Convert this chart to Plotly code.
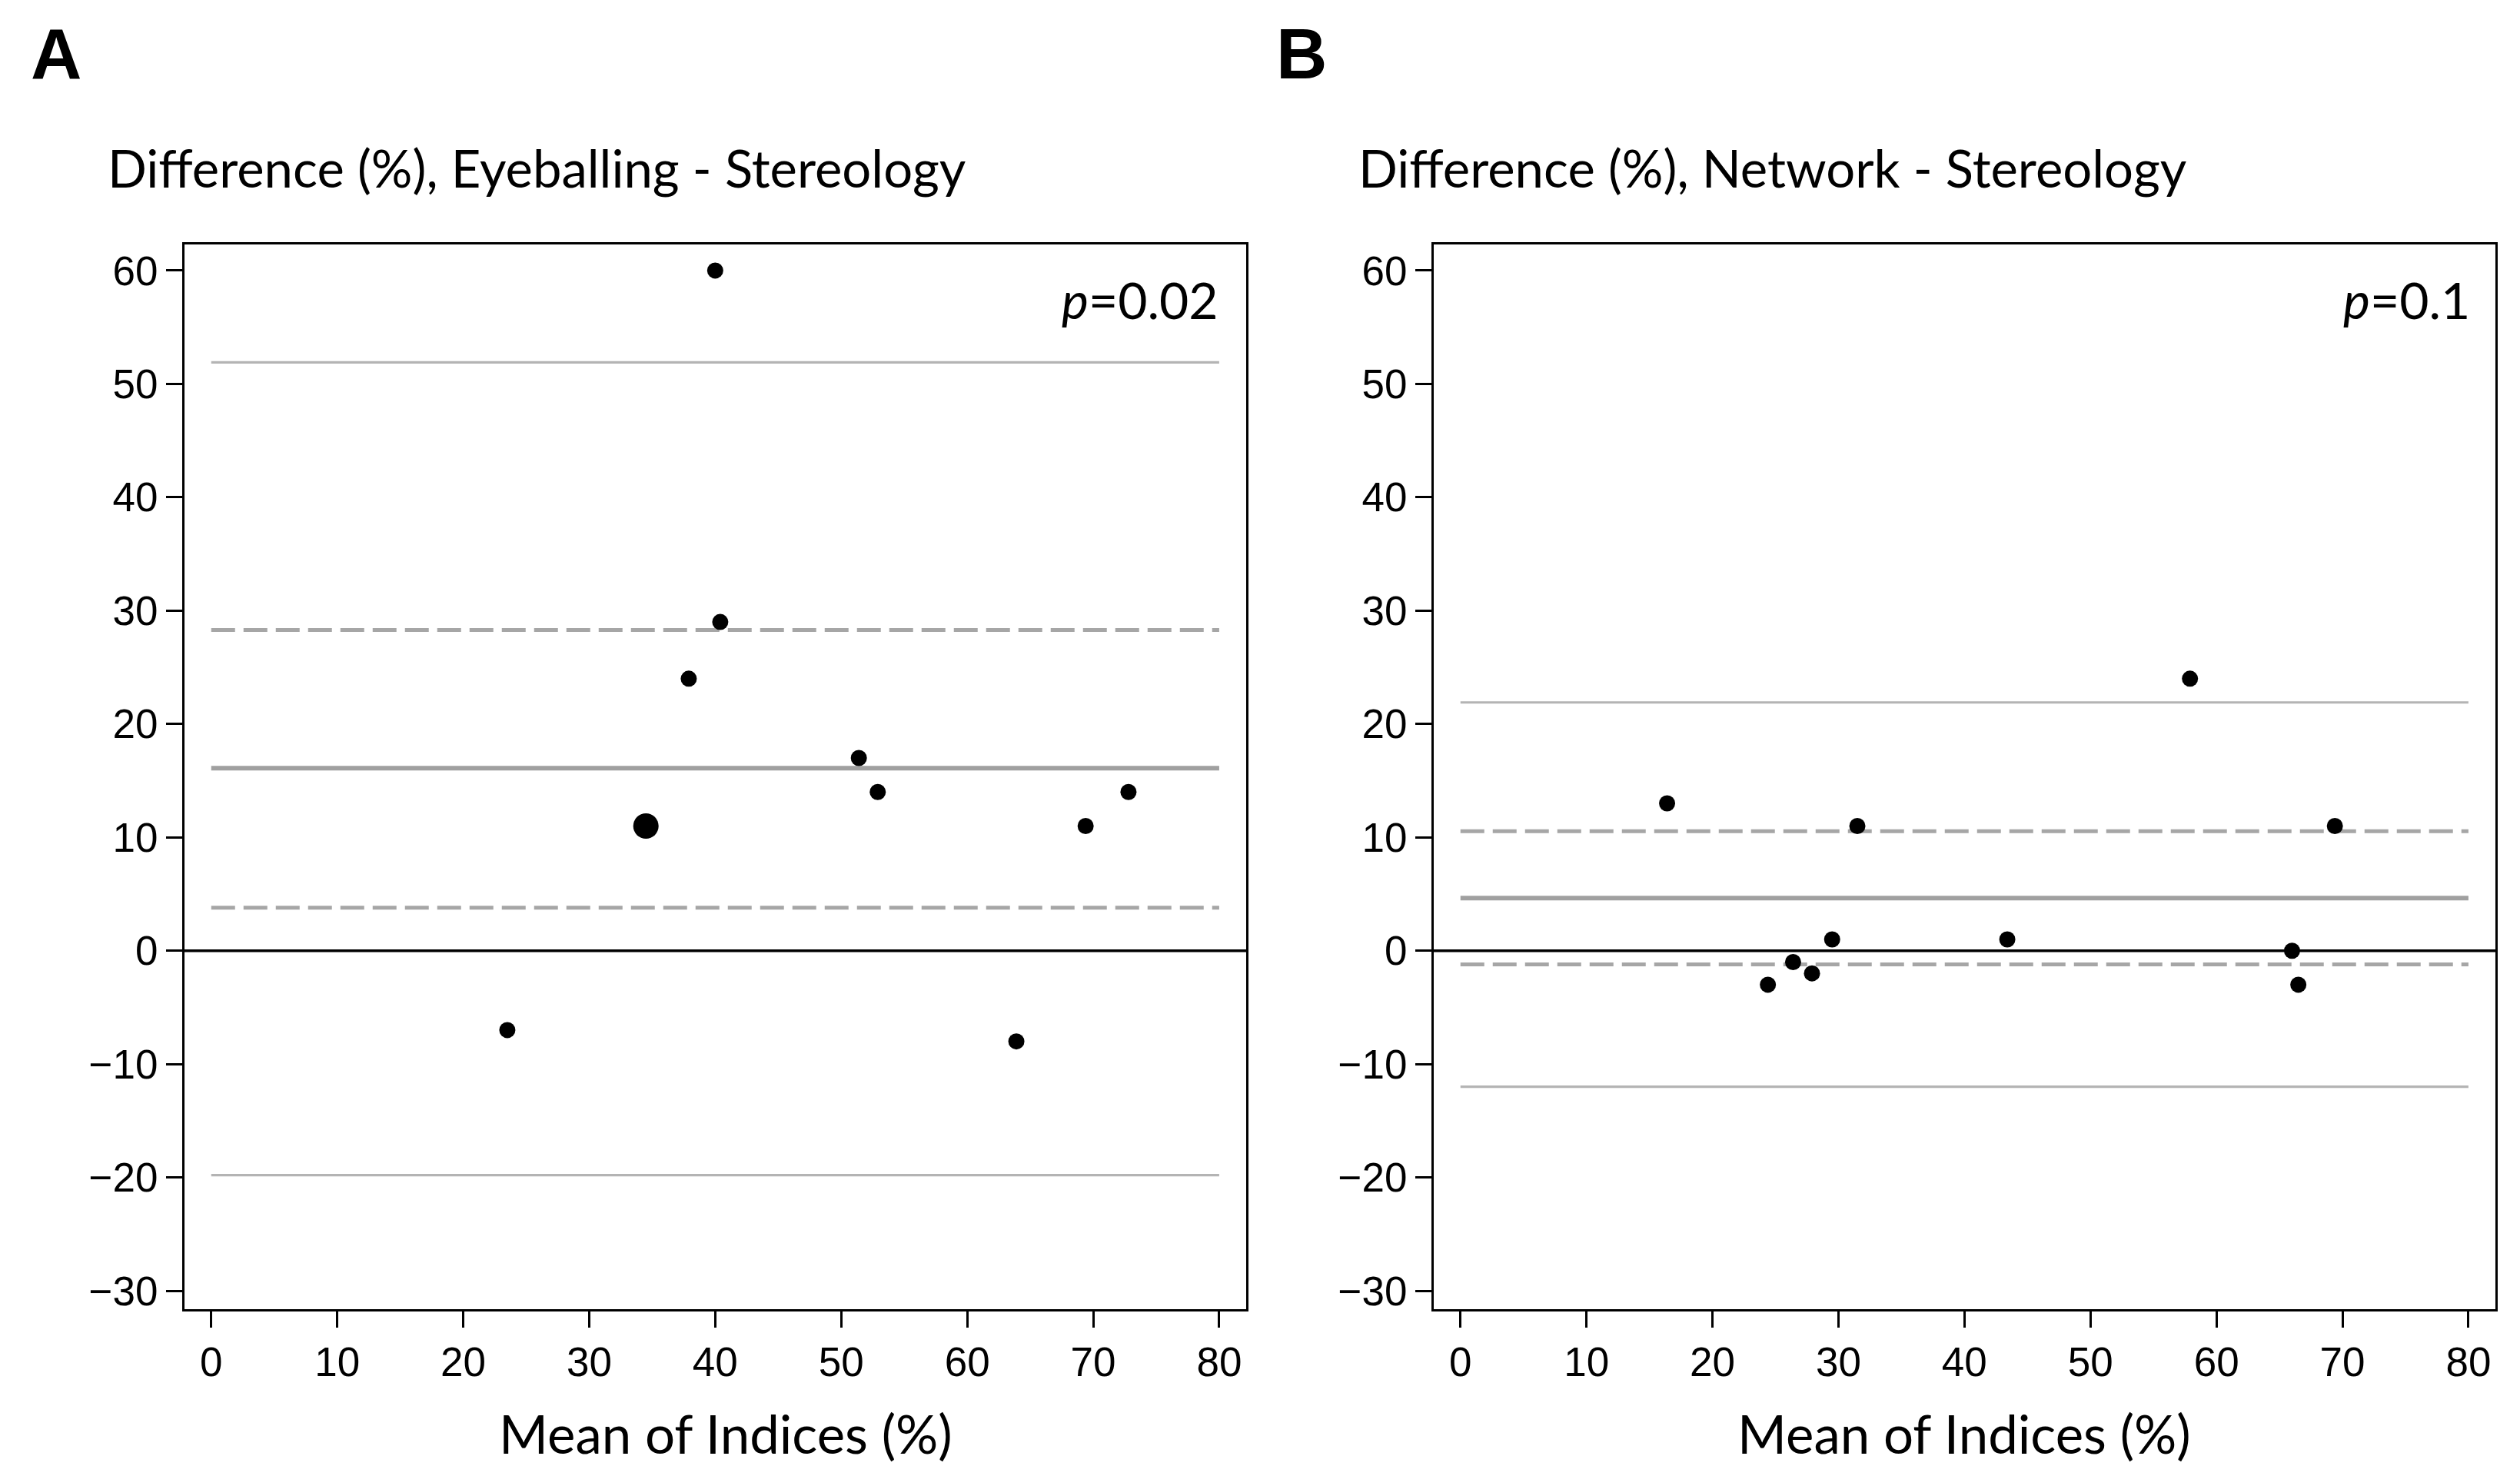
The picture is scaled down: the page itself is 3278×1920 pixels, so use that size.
import plotly.graph_objects as go

# ---------------- data ----------------
# Panel A: Eyeballing - Stereology
a_mean_idx = [40.0, 40.4, 37.9, 34.5, 51.4, 52.9, 69.4, 72.8, 23.5, 63.9]
a_diff = [60, 29, 24, 11, 17, 14, 11, 14, -7, -8]
a_count = [1, 1, 1, 2, 1, 1, 1, 1, 1, 1]
a_mean_line = 16.1
a_ci = [28.3, 3.8]
a_loa = [51.9, -19.8]
a_p = "0.02"

# Panel B: Network - Stereology
b_mean_idx = [16.4, 31.5, 57.9, 69.4, 29.5, 43.4, 26.4, 27.9, 24.4, 66.0, 66.5]
b_diff = [13, 11, 24, 11, 1, 1, -1, -2, -3, 0, -3]
b_count = [1] * len(b_diff)
b_mean_line = 4.65
b_ci = [10.55, -1.2]
b_loa = [21.9, -12.0]
b_p = "0.1"

x_ticks = [0, 10, 20, 30, 40, 50, 60, 70, 80]
y_ticks = [-30, -20, -10, 0, 10, 20, 30, 40, 50, 60]
line_x = [0, 80]

panel_letters = ["A", "B"]
y_titles = ["Difference (%), Eyeballing - Stereology", "Difference (%), Network - Stereology"]
x_title = "Mean of Indices (%)"

# ---------------- styling ----------------
W, H = 3278, 1920
TICK_FONT = "Liberation Sans, Arial, sans-serif"
TEXT_FONT = "Lato, Open Sans, sans-serif"

fig = go.Figure()

panels = [
    dict(x=a_mean_idx, y=a_diff, n=a_count, mean=a_mean_line, ci=a_ci, loa=a_loa, p=a_p, xa="x", ya="y"),
    dict(x=b_mean_idx, y=b_diff, n=b_count, mean=b_mean_line, ci=b_ci, loa=b_loa, p=b_p, xa="x2", ya="y2"),
]

for pn in panels:
    for v in pn["loa"]:
        fig.add_trace(go.Scatter(x=line_x, y=[v, v], mode="lines", xaxis=pn["xa"], yaxis=pn["ya"],
                                 line=dict(color="#b4b4b4", width=3.2), hoverinfo="skip"))
    for v in pn["ci"]:
        fig.add_trace(go.Scatter(x=line_x, y=[v, v], mode="lines", xaxis=pn["xa"], yaxis=pn["ya"],
                                 line=dict(color="#a6a6a6", width=5, dash="31px,11px"), hoverinfo="skip"))
    fig.add_trace(go.Scatter(x=line_x, y=[pn["mean"], pn["mean"]], mode="lines", xaxis=pn["xa"], yaxis=pn["ya"],
                             line=dict(color="#a0a0a0", width=6), hoverinfo="skip"))
    sizes = [21 if c == 1 else 33 for c in pn["n"]]
    fig.add_trace(go.Scatter(x=pn["x"], y=pn["y"], mode="markers", xaxis=pn["xa"], yaxis=pn["ya"],
                             marker=dict(color="#000000", size=sizes, opacity=1, line=dict(width=0))))

# zero lines across the full box
for xa, ya in [("x", "y"), ("x2", "y2")]:
    fig.add_shape(type="line", xref=f"{xa} domain", yref=ya, x0=0, x1=1, y0=0, y1=0,
                  line=dict(color="black", width=3.5), layer="above")

ax_common = dict(showgrid=False, zeroline=False, showline=True, mirror=True, linecolor="black",
                 linewidth=3, ticks="outside", ticklen=21, tickwidth=2.5, tickcolor="black",
                 tickfont=dict(family=TICK_FONT, size=53, color="black"))

ydom = [1 - 1700 / H, 1 - 311 / H]
xr = [-2.12, 82.14]
yr = [-31.6, 62.3]
fig.update_layout(
    width=W, height=H, margin=dict(l=0, r=0, t=0, b=0),
    paper_bgcolor="white", plot_bgcolor="white", showlegend=False,
    xaxis=dict(domain=[232 / W, 1613 / W], range=xr, tickvals=x_ticks, anchor="y", **ax_common),
    yaxis=dict(domain=ydom, range=yr, tickvals=y_ticks, anchor="x", **ax_common),
    xaxis2=dict(domain=[1857 / W, 3238 / W], range=xr, tickvals=x_ticks, anchor="y2", **ax_common),
    yaxis2=dict(domain=ydom, range=yr, tickvals=y_ticks, anchor="x2", **ax_common),
)

ann = []
letter_x = [30, 1650]
title_x = [130, 1757]
p_right = [1579, 3207]
xt_center = [936, 2547]
for i in range(2):
    ann.append(dict(text=f"<b>{panel_letters[i]}</b>", x=letter_x[i] / W, y=1 - 62 / H, xref="paper", yref="paper",
                    xanchor="left", yanchor="middle", showarrow=False,
                    font=dict(family="Liberation Sans, Arial, sans-serif", size=92, color="black")))
    ann.append(dict(text=y_titles[i], x=title_x[i] / W, y=1 - 211 / H, xref="paper", yref="paper",
                    xanchor="left", yanchor="middle", showarrow=False,
                    font=dict(family=TEXT_FONT, size=67, color="black")))
    ann.append(dict(text=f"<i>p</i>={panels[i]['p']}", x=p_right[i] / W, y=1 - 383 / H, xref="paper", yref="paper",
                    xanchor="right", yanchor="middle", showarrow=False,
                    font=dict(family=TEXT_FONT, size=66, color="black")))
    ann.append(dict(text=x_title, x=xt_center[i] / W, y=1 - 1862 / H, xref="paper", yref="paper",
                    xanchor="center", yanchor="middle", showarrow=False,
                    font=dict(family=TEXT_FONT, size=69, color="black")))
fig.update_layout(annotations=ann)

fig.write_html("out.html")
